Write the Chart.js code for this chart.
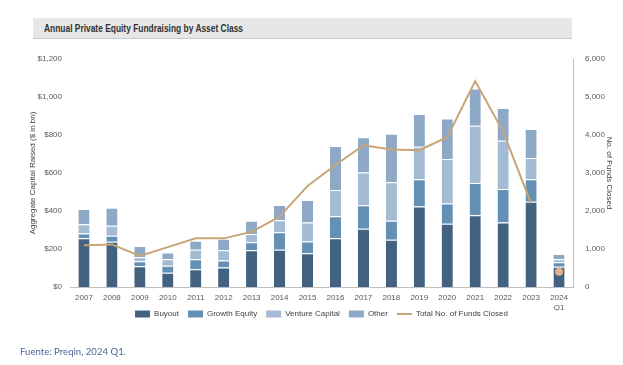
<!DOCTYPE html>
<html>
<head>
<meta charset="utf-8">
<script src="https://cdn.jsdelivr.net/npm/chart.js@4.4.1/dist/chart.umd.min.js"></script>
<style>
  html, body { margin: 0; padding: 0; background: #fff; }
  #wrap { position: relative; width: 623px; height: 365px; }
  #myChart { position: absolute; left: 0; top: 0; }
  .header {
    position: absolute; left: 33px; top: 18px; width: 539px; height: 21px;
    background: #e7e7e7; border-bottom: 1px solid #c9c9c9;
    font-family: "Liberation Sans", sans-serif;
    font-weight: bold; font-size: 10.5px; color: #333; line-height: 21px;
    box-sizing: border-box; padding-left: 11px;
  }
  .header span { display: inline-block; transform: scaleX(0.8); transform-origin: left center; white-space: nowrap; }
  .source {
    position: absolute; left: 20px; top: 346px;
    font-family: Lato, sans-serif; font-size: 9.6px; color: #4a6898;
  }
</style>
</head>
<body>
<div id="wrap">
  <canvas id="myChart" width="623" height="365"></canvas>
  <div class="header"><span>Annual Private Equity Fundraising by Asset Class</span></div>
  <div class="source">Fuente: Preqin, 2024 Q1.</div>
</div>
<script>
const labels = ["2007", "2008", "2009", "2010", "2011", "2012", "2013", "2014", "2015",
  "2016", "2017", "2018", "2019", "2020", "2021", "2022", "2023", ["2024", "Q1"]];

// $bn raised, by asset class
const buyout = [256, 238, 109, 75, 93, 102, 193, 196, 177, 256, 307, 249, 424, 333, 377, 339, 449, 107];
const growth = [26, 32, 26, 37, 53, 37, 42, 92, 62, 116, 123, 100, 143, 107, 170, 177, 118, 23];
const venture = [48, 53, 21, 34, 50, 54, 44, 63, 101, 138, 172, 202, 171, 234, 302, 254, 112, 16];
const other = [80, 94, 60, 35, 48, 61, 70, 80, 118, 232, 186, 256, 172, 213, 196, 172, 152, 28];

// number of funds closed
const funds = [1100, 1120, 820, 1050, 1280, 1280, 1450, 1850, 2660, 3210, 3730, 3620, 3600, 3940, 5420, 4090, 2200, 400];

const FONT = "'Liberation Sans', sans-serif";
const LAST = funds.length - 1;

function barSet(label, values, color) {
  return {
    type: "bar",
    label,
    data: values,
    backgroundColor: color,
    borderColor: "#ffffff",
    borderWidth: { top: 1, left: 0, right: 0, bottom: 0 },
    borderSkipped: false,
    categoryPercentage: 1,
    barPercentage: 0.4,
    yAxisID: "y",
    order: 1,
  };
}

const data = {
  labels,
  datasets: [
    barSet("Buyout", buyout, "#42627f"),
    barSet("Growth Equity", growth, "#6490b5"),
    barSet("Venture Capital", venture, "#a3bcd3"),
    barSet("Other", other, "#8ea9c6"),
    {
      type: "line",
      label: "Total No. of Funds Closed",
      data: funds,
      borderColor: "#c9a477",
      borderWidth: 2,
      backgroundColor: "#e2b08c",
      pointBackgroundColor: "#e2b08c",
      pointBorderWidth: 0,
      pointRadius: (c) => (c.dataIndex === LAST ? 4 : 0),
      pointHoverRadius: 0,
      tension: 0,
      segment: {
        borderColor: (c) => (c.p1DataIndex === LAST ? "rgba(0,0,0,0)" : undefined),
      },
      yAxisID: "y2",
      order: 0,
    },
  ],
};

// legend sits a bit right of centre and tucked up beside the "Q1" label
const legendShift = {
  id: "legendShift",
  afterLayout(chart) {
    const lg = chart.legend;
    lg.left += 10;
    lg.right += 10;
    lg.top -= 10;
    lg.bottom -= 10;
  },
};

const config = {
  type: "bar",
  data: data,
  plugins: [legendShift],
  options: {
    responsive: false,
    animation: false,
    layout: { padding: { top: 59, bottom: 27, left: 0, right: 0 } },
    plugins: {
      tooltip: { enabled: false },
      legend: {
        position: "bottom",
        labels: {
          usePointStyle: true,
          pointStyleWidth: 15,
          boxHeight: 7,
          padding: 9,
          color: "#404040",
          font: { family: FONT, size: 8 },
          sort: (a, b) => a.datasetIndex - b.datasetIndex,
          generateLabels: (chart) => {
            const items = Chart.defaults.plugins.legend.labels.generateLabels(chart);
            items.forEach((it) => {
              if (it.datasetIndex === 4) {
                it.pointStyle = "line";
                it.strokeStyle = "#c9a477";
                it.lineWidth = 2;
              } else {
                it.pointStyle = "rect";
                it.lineWidth = 0;
              }
            });
            return items;
          },
        },
      },
    },
    scales: {
      x: {
        stacked: true,
        grid: { display: false, drawTicks: false },
        border: { display: true, color: "#bfbfbf" },
        ticks: { color: "#595959", font: { family: FONT, size: 8 }, padding: 6, maxRotation: 0, autoSkip: false },
        afterFit: (s) => { s.height = 24; },
      },
      y: {
        stacked: true,
        position: "left",
        min: 0,
        max: 1200,
        grid: { display: false, drawTicks: false },
        border: { display: false },
        ticks: {
          stepSize: 200,
          padding: 8,
          color: "#595959",
          font: { family: FONT, size: 8 },
          callback: (v) => "$" + v.toLocaleString("en-US"),
        },
        title: {
          display: true,
          text: "Aggregate Capital Raised ($ in bn)",
          color: "#404040",
          font: { family: FONT, size: 8 },
          padding: { top: 28, bottom: 28 },
        },
        afterFit: (s) => { s.width = 70; },
      },
      y2: {
        position: "right",
        min: 0,
        max: 6000,
        grid: { display: false, drawTicks: false },
        border: { display: true, color: "#bfbfbf" },
        ticks: {
          stepSize: 1000,
          padding: 12,
          color: "#595959",
          font: { family: FONT, size: 8 },
          callback: (v) => v.toLocaleString("en-US"),
        },
        title: {
          display: true,
          text: "No. of Funds Closed",
          color: "#404040",
          font: { family: FONT, size: 8 },
          padding: { top: 9, bottom: 9 },
        },
        afterFit: (s) => { s.width = 50; },
      },
    },
  },
};

const ctx = document.getElementById("myChart").getContext("2d");
const myChart = new Chart(ctx, config);
</script>
</body>
</html>
